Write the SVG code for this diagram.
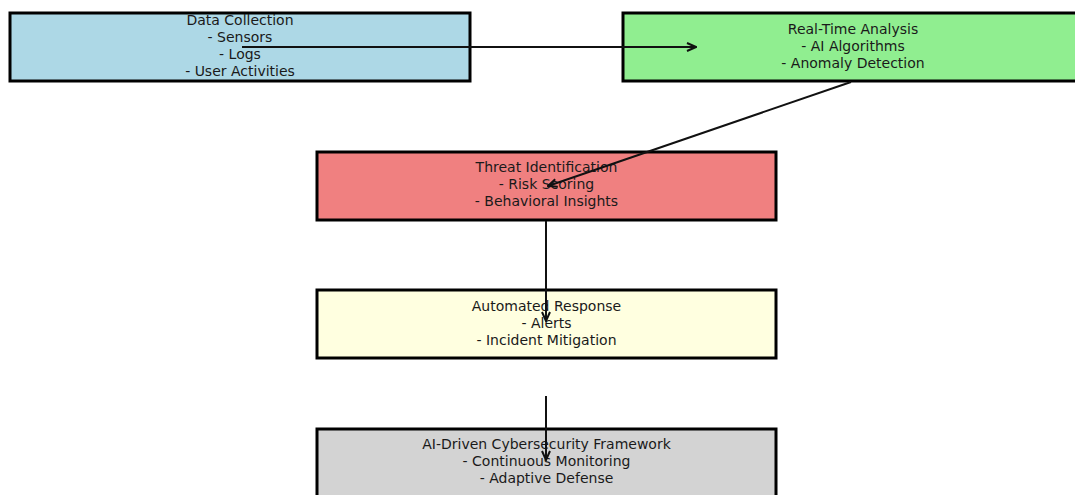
<svg xmlns="http://www.w3.org/2000/svg" width="1075" height="495" viewBox="0 0 1075 495">
<defs>
<style>
.box{stroke:#000;stroke-width:3}
.t{font-family:"DejaVu Sans",sans-serif;font-size:14px;fill:#1a1a1a;text-anchor:middle}
.c{stroke:#111;stroke-width:2;fill:none}
</style>
<marker id="ah" viewBox="0 0 12 12" refX="11" refY="6" markerWidth="12" markerHeight="12" markerUnits="userSpaceOnUse" orient="auto">
<path d="M2,2 L11,6 L2,10" fill="none" stroke="#111" stroke-width="2"/>
</marker>
</defs>
<rect width="1075" height="495" fill="#fff"/>
<g id="n1">
<rect class="box" x="10" y="13" width="460" height="68" fill="#add8e6"/>
<text class="t" x="240" y="25">Data Collection</text>
<text class="t" x="240" y="42">- Sensors</text>
<text class="t" x="240" y="59">- Logs</text>
<text class="t" x="240" y="76">- User Activities</text>
</g>
<g id="n2">
<rect class="box" x="623" y="13" width="460" height="68" fill="#90ee90"/>
<text class="t" x="853" y="34">Real-Time Analysis</text>
<text class="t" x="853" y="51">- AI Algorithms</text>
<text class="t" x="853" y="68">- Anomaly Detection</text>
</g>
<g id="n3">
<rect class="box" x="317" y="152" width="459" height="68" fill="#f08080"/>
<text class="t" x="546.5" y="172">Threat Identification</text>
<text class="t" x="546.5" y="189">- Risk Scoring</text>
<text class="t" x="546.5" y="206">- Behavioral Insights</text>
</g>
<g id="n4">
<rect class="box" x="317" y="290" width="459" height="68" fill="#ffffe0"/>
<text class="t" x="546.5" y="311">Automated Response</text>
<text class="t" x="546.5" y="328">- Alerts</text>
<text class="t" x="546.5" y="345">- Incident Mitigation</text>
</g>
<g id="n5">
<rect class="box" x="317" y="429" width="459" height="80" fill="#d3d3d3"/>
<text class="t" x="546.5" y="449">AI-Driven Cybersecurity Framework</text>
<text class="t" x="546.5" y="466">- Continuous Monitoring</text>
<text class="t" x="546.5" y="483">- Adaptive Defense</text>
</g>
<g id="connectors">
<line class="c" x1="242" y1="47" x2="696" y2="47" marker-end="url(#ah)"/>
<line class="c" x1="851" y1="82" x2="548" y2="186" marker-end="url(#ah)"/>
<line class="c" x1="546" y1="221" x2="546" y2="321" marker-end="url(#ah)"/>
<line class="c" x1="546" y1="396" x2="546" y2="460" marker-end="url(#ah)"/>
</g>
</svg>
